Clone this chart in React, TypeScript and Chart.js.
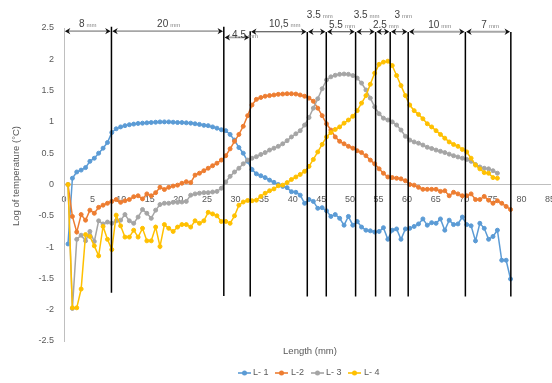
import { useEffect, useRef } from "react";
import { Chart, registerables } from "chart.js";

Chart.register(...registerables);

// ---------- data ----------
const lengthsMm = [
  0.7, 1.47, 2.23, 3.0, 3.77, 4.53, 5.3, 6.06, 6.83, 7.6,
  8.36, 9.13, 9.9, 10.66, 11.43, 12.19, 12.96, 13.73, 14.49, 15.26,
  16.03, 16.79, 17.56, 18.32, 19.09, 19.86, 20.62, 21.39, 22.16, 22.92,
  23.69, 24.46, 25.22, 25.99, 26.75, 27.52, 28.29, 29.05, 29.82, 30.59,
  31.35, 32.12, 32.88, 33.65, 34.42, 35.18, 35.95, 36.72, 37.48, 38.25,
  39.02, 39.78, 40.55, 41.31, 42.08, 42.85, 43.61, 44.38, 45.15, 45.91,
  46.68, 47.44, 48.21, 48.98, 49.74, 50.51, 51.28, 52.04, 52.81, 53.57,
  54.34, 55.11, 55.87, 56.64, 57.41, 58.17, 58.94, 59.71, 60.47, 61.24,
  62.0, 62.77, 63.54, 64.3, 65.07, 65.84, 66.6, 67.37, 68.13, 68.9,
  69.67, 70.43, 71.2, 71.97, 72.73, 73.5, 74.26, 75.03, 75.8, 76.56,
  77.33, 78.1,
];

const l1 = [
  -0.95, 0.1, 0.2, 0.23, 0.27, 0.37, 0.42, 0.5, 0.58, 0.67,
  0.83, 0.89, 0.92, 0.94, 0.955, 0.965, 0.975, 0.98, 0.985, 0.99,
  0.995, 1.0, 1.0, 1.0, 0.995, 0.99, 0.99, 0.985, 0.98, 0.97,
  0.96, 0.945, 0.94, 0.92, 0.9, 0.875, 0.86, 0.8, 0.71, 0.59,
  0.5, 0.37, 0.24, 0.17, 0.14, 0.11, 0.07, 0.035, 0.0, -0.03,
  -0.05, -0.115, -0.125, -0.17, -0.3, -0.24, -0.27, -0.38, -0.37, -0.42,
  -0.51, -0.48, -0.54, -0.65, -0.51, -0.65, -0.59, -0.68, -0.73, -0.74,
  -0.76, -0.75, -0.69, -0.875, -0.73, -0.71, -0.875, -0.71, -0.7, -0.67,
  -0.63, -0.55, -0.65, -0.61, -0.62, -0.55, -0.73, -0.57, -0.64, -0.63,
  -0.52, -0.64, -0.66, -0.9, -0.62, -0.7, -0.875, -0.83, -0.73, -1.21,
  -1.21, -1.51,
];

const l2 = [
  0, -0.51, -0.76, -0.48, -0.57, -0.41, -0.46, -0.365, -0.33, -0.3,
  -0.27, -0.24, -0.285, -0.26, -0.24, -0.195, -0.18, -0.23, -0.15, -0.18,
  -0.13, -0.045, -0.08, -0.045, -0.025, -0.01, 0.02, 0.045, 0.03, 0.15,
  0.18, 0.22, 0.26, 0.3, 0.34, 0.39, 0.46, 0.57, 0.69, 0.8,
  0.93, 1.1, 1.27, 1.36, 1.39, 1.41, 1.42, 1.43, 1.44, 1.445,
  1.45, 1.45, 1.445, 1.43, 1.41, 1.38, 1.33, 1.22, 1.1, 0.97,
  0.87, 0.76, 0.69, 0.65, 0.61, 0.58, 0.54, 0.51, 0.46, 0.39,
  0.33, 0.25, 0.18, 0.12, 0.11, 0.1, 0.09, 0.06, 0.0, -0.01,
  -0.045, -0.077, -0.077, -0.077, -0.077, -0.11, -0.1, -0.18, -0.125, -0.15,
  -0.18, -0.18, -0.15, -0.24, -0.24, -0.19, -0.25, -0.3, -0.26, -0.3,
  -0.35, -0.4,
];

const l3 = [
  0, -1.98, -0.876, -0.81, -0.9, -0.75, -0.91, -0.58, -0.63, -0.6,
  -0.62, -0.58, -0.57, -0.48, -0.58, -0.62, -0.52, -0.4, -0.46, -0.54,
  -0.41, -0.32, -0.3, -0.3, -0.285, -0.285, -0.28, -0.27, -0.17, -0.15,
  -0.14, -0.13, -0.13, -0.12, -0.11, -0.06, 0.04, 0.13, 0.2, 0.26,
  0.33, 0.39, 0.42, 0.445, 0.48, 0.51, 0.55, 0.58, 0.61, 0.65,
  0.7, 0.76, 0.81, 0.86, 0.95, 1.07, 1.22, 1.37, 1.53, 1.67,
  1.72, 1.745, 1.76, 1.765, 1.76, 1.74, 1.7, 1.62, 1.51, 1.38,
  1.24, 1.13, 1.06, 1.03, 1.0, 0.95, 0.87, 0.77, 0.71, 0.68,
  0.66, 0.63, 0.595, 0.575, 0.55, 0.53, 0.51, 0.485, 0.46, 0.44,
  0.42, 0.4, 0.37, 0.32, 0.28, 0.26, 0.25, 0.22, 0.18,
];

const l4 = [
  0, -1.97, -1.97, -1.67, -0.8, -0.83, -0.98, -1.14, -0.67, -0.876,
  -1.04, -0.49, -0.66, -0.84, -0.84, -0.73, -0.84, -0.7, -0.9, -0.9,
  -0.68, -0.99, -0.64, -0.7, -0.75, -0.68, -0.64, -0.64, -0.68, -0.58,
  -0.62, -0.58, -0.445, -0.47, -0.5, -0.59, -0.59, -0.62, -0.5, -0.33,
  -0.28, -0.255, -0.26, -0.25, -0.19, -0.14, -0.1, -0.07, -0.02, -0.01,
  0.03, 0.08, 0.12, 0.16, 0.21, 0.29, 0.4, 0.52, 0.64, 0.76,
  0.83, 0.88, 0.92, 0.98, 1.03, 1.09, 1.18, 1.3, 1.42, 1.6,
  1.78, 1.92, 1.955, 1.97, 1.9, 1.74, 1.58, 1.42, 1.27, 1.18,
  1.12, 1.05, 0.97, 0.92, 0.86, 0.8, 0.74, 0.68, 0.64, 0.61,
  0.56, 0.52, 0.42, 0.31, 0.25, 0.19, 0.18, 0.11, 0.1,
];

const seriesNames = ["L- 1", "L-2", "L- 3", "L- 4"];
const seriesColors = ["#5B9BD5", "#ED7D31", "#A5A5A5", "#FFC000"];

// zone boundaries (mm) and their widths as labelled
const boundaryMm = [8.3, 27.95, 32.57, 42.55, 45.87, 51.0, 54.5, 57.05, 60.2, 70.2, 78.15];
const segmentLabels = ["8", "20", "4.5", "10,5", "3.5", "5.5", "3.5", "2.5", "3", "10", "7"];
const unitLabel = "mm";
const xTitle = "Length (mm)";
const yTitle = "Log of temperature (°C)";

// ---------- styles / layout of the annotation shapes ----------
const lineTopVal = [2.52, 2.52, 2.45, 2.436, 2.436, 2.436, 2.436, 2.436, 2.436, 2.436, 2.436];
const lineBottomVal = [-1.73, -1.78, -1.79, -1.79, -1.79, -1.79, -1.79, -1.79, -1.79, -1.79, -1.79];
const arrowLevel = [2.45, 2.45, 2.35, 2.44, 2.44, 2.44, 2.44, 2.44, 2.44, 2.44, 2.44];
const labelRise = [8, 8, 3, 8, 17, 7, 17, 7, 17, 7, 7];
const labelShift = [0, 1, 8, 6, 3, 1, 1, 3, 4, 3, 2];
const arrowColor = ["#A6A6A6", "#A6A6A6", "#A6A6A6", "#262626", "#262626", "#262626", "#262626", "#262626", "#262626", "#A6A6A6", "#A6A6A6"];
const arrowWidth = [1.8, 1.8, 1.8, 0.9, 0.9, 0.9, 0.9, 0.9, 0.9, 1.8, 1.8];
const legendLineX = [238, 275, 311, 348];
const legendTextX = [253, 291, 326, 364];

const FONT = "'Liberation Sans', Arial, sans-serif";
const TEXT = "#595959";

export default function App() {
  const ref = useRef<HTMLCanvasElement>(null);

  useEffect(() => {
    const canvas = ref.current;
    if (!canvas) return;
    const series = [l1, l2, l3, l4];

    const overlay = {
      id: "overlay",
      afterDraw(chart: any) {
        const { ctx } = chart;
        const xs = chart.scales.x;
        const ys = chart.scales.y;
        ctx.save();

        // vertical zone lines
        ctx.strokeStyle = "#000000";
        ctx.lineWidth = 1.5;
        boundaryMm.forEach((b, i) => {
          const px = xs.getPixelForValue(b);
          ctx.beginPath();
          ctx.moveTo(px, ys.getPixelForValue(lineTopVal[i]));
          ctx.lineTo(px, ys.getPixelForValue(lineBottomVal[i]));
          ctx.stroke();
        });

        // dimension arrows + labels
        boundaryMm.forEach((b, i) => {
          const x1 = xs.getPixelForValue(i === 0 ? 0 : boundaryMm[i - 1]) + 0.8;
          const x2 = xs.getPixelForValue(b) - 0.8;
          const yy = ys.getPixelForValue(arrowLevel[i]);
          ctx.strokeStyle = arrowColor[i];
          ctx.lineWidth = arrowWidth[i];
          ctx.beginPath();
          ctx.moveTo(x1 + 3, yy);
          ctx.lineTo(x2 - 3, yy);
          ctx.stroke();
          ctx.fillStyle = "#111111";
          const head = (tx: number, dir: number) => {
            ctx.beginPath();
            ctx.moveTo(tx, yy);
            ctx.lineTo(tx + dir * 5.5, yy - 3.2);
            ctx.lineTo(tx + dir * 3.8, yy);
            ctx.lineTo(tx + dir * 5.5, yy + 3.2);
            ctx.closePath();
            ctx.fill();
          };
          head(x1, 1);
          head(x2, -1);

          const num = segmentLabels[i];
          ctx.font = `10px ${FONT}`;
          const w1 = ctx.measureText(num).width;
          ctx.font = `6px ${FONT}`;
          const w2 = ctx.measureText(unitLabel).width;
          const gap = 2;
          const total = w1 + gap + w2;
          const cx = (x1 + x2) / 2 + labelShift[i];
          const base = yy - labelRise[i] + 3.6;
          ctx.textAlign = "left";
          ctx.textBaseline = "alphabetic";
          ctx.fillStyle = "#404040";
          ctx.font = `10px ${FONT}`;
          ctx.fillText(num, cx - total / 2, base);
          ctx.fillStyle = "#7F7F7F";
          ctx.font = `6px ${FONT}`;
          ctx.fillText(unitLabel, cx - total / 2 + w1 + gap, base);
        });

        // axis titles
        ctx.fillStyle = TEXT;
        ctx.font = `9.5px ${FONT}`;
        ctx.textAlign = "center";
        ctx.textBaseline = "middle";
        ctx.fillText(xTitle, 310, 351);
        ctx.save();
        ctx.translate(16.5, 176);
        ctx.rotate(-Math.PI / 2);
        ctx.fillText(yTitle, 0, 0);
        ctx.restore();

        // legend
        const ly = 373;
        seriesNames.forEach((name, i) => {
          ctx.strokeStyle = seriesColors[i];
          ctx.lineWidth = 1.6;
          ctx.beginPath();
          ctx.moveTo(legendLineX[i], ly);
          ctx.lineTo(legendLineX[i] + 13, ly);
          ctx.stroke();
          ctx.fillStyle = seriesColors[i];
          ctx.beginPath();
          ctx.arc(legendLineX[i] + 6.5, ly, 2.5, 0, Math.PI * 2);
          ctx.fill();
          ctx.fillStyle = TEXT;
          ctx.font = `9px ${FONT}`;
          ctx.textAlign = "left";
          ctx.textBaseline = "middle";
          ctx.fillText(name, legendTextX[i], ly);
        });

        ctx.restore();
      },
    };

    const chart = new Chart(canvas, {
      type: "scatter",
      data: {
        datasets: series.map((vals, i) => ({
          label: seriesNames[i],
          data: vals.map((v, k) => ({ x: lengthsMm[k], y: v })),
          showLine: true,
          borderColor: seriesColors[i],
          backgroundColor: seriesColors[i],
          pointBackgroundColor: seriesColors[i],
          pointBorderColor: seriesColors[i],
          borderWidth: 1.5,
          pointRadius: 2,
          pointBorderWidth: 1,
          tension: 0,
          order: 4 - i,
        })),
      },
      options: {
        responsive: false,
        animation: false,
        devicePixelRatio: 1,
        layout: { padding: { left: 0, right: 2, top: 28, bottom: 42 } },
        plugins: {
          legend: { display: false },
          tooltip: { enabled: false },
          title: { display: false },
        },
        scales: {
          x: {
            type: "linear",
            min: 0,
            max: 85,
            position: { y: 0 } as any,
            grid: { display: false, drawTicks: false },
            border: { display: true, color: "#BFBFBF", width: 1 },
            ticks: {
              stepSize: 5,
              autoSkip: false,
              maxRotation: 0,
              padding: 10,
              color: TEXT,
              font: { size: 9, family: FONT },
              callback: (v: any) => String(v),
            },
            afterFit: (s: any) => {
              s.paddingLeft = 0;
              s.paddingRight = 0;
            },
          },
          y: {
            type: "linear",
            min: -2.5,
            max: 2.5,
            grid: { display: false, drawTicks: false },
            border: { display: true, color: "#BFBFBF", width: 1 },
            ticks: {
              stepSize: 0.5,
              padding: 10,
              color: TEXT,
              font: { size: 9, family: FONT },
              callback: (v: any) => String(v),
            },
            afterFit: (s: any) => {
              s.width = 64;
            },
          },
        },
      },
      plugins: [overlay],
    } as any);

    return () => chart.destroy();
  }, []);

  return (
    <div style={{ position: "absolute", left: 0, top: 0, width: 552, height: 383, overflow: "hidden", background: "#fff" }}>
      <canvas ref={ref} width={555} height={383} style={{ display: "block", width: 555, height: 383 }} />
    </div>
  );
}
